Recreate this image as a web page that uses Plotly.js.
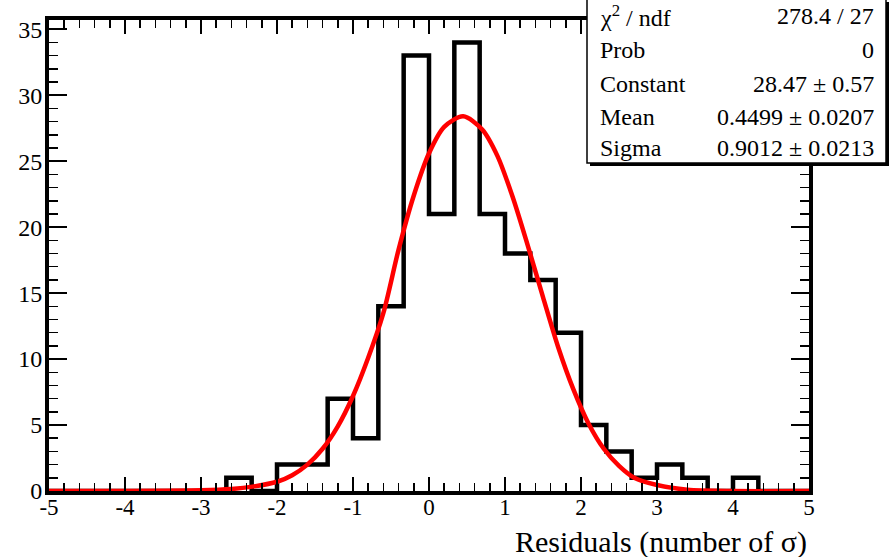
<!DOCTYPE html>
<html>
<head>
<meta charset="utf-8">
<script src="https://cdn.plot.ly/plotly-3.0.1.min.js"></script>
<style>html,body{margin:0;padding:0;background:#fff;}#chart{width:891px;height:557px;}</style>
</head>
<body>
<div id="chart"></div>
<script>
// Histogram bin edges (31 edges, 30 bins of width 1/3 from -5 to 5)
const binEdges = [-5, -4.6667, -4.3333, -4, -3.6667, -3.3333, -3, -2.6667, -2.3333, -2,
  -1.6667, -1.3333, -1, -0.6667, -0.3333, 0, 0.3333, 0.6667, 1, 1.3333,
  1.6667, 2, 2.3333, 2.6667, 3, 3.3333, 3.6667, 4, 4.3333, 4.6667, 5];
// Bin contents
const binCounts = [0, 0, 0, 0, 0, 0, 0, 1, 0, 2,
  2, 7, 4, 14, 33, 21, 34, 21, 18, 16,
  12, 5, 3, 1, 2, 1, 0, 1, 0, 0];

// Fitted curve, points
const fitX = [-5, -4, -3, -2.6, -2.3, -2.0, -1.8, -1.6, -1.4, -1.2, -1.0, -0.8, -0.6, -0.4, -0.2, 0, 0.2, 0.45, 0.7, 0.9, 1.1, 1.3, 1.5, 1.7, 1.9, 2.1, 2.3, 2.5, 2.7, 3.0, 3.4, 4, 5];
const fitY = [0, 0, 0.05, 0.15, 0.35, 0.7, 1.2, 2.0, 3.2, 4.9, 7.2, 10.1, 13.5, 18.3, 22.4, 25.6, 27.6, 28.4, 27.4, 25.4, 22.3, 18.6, 14.7, 10.9, 7.7, 5.1, 3.2, 1.9, 1.0, 0.45, 0.1, 0, 0];

// Statistics box
const statLabels = ["χ<sup>2</sup> / ndf", "Prob", "Constant", "Mean", "Sigma"];
const statValues = ["278.4 / 27", "0", "28.47 ± 0.57", "0.4499 ± 0.0207", "0.9012 ± 0.0213"];

const xTitle = "Residuals (number of σ)";
const xTickVals = [-5, -4, -3, -2, -1, 0, 1, 2, 3, 4, 5];
const yTickVals = [0, 5, 10, 15, 20, 25, 30, 35];

const histY = binCounts.concat([binCounts[binCounts.length - 1]]);

const FONT = "Liberation Serif";

const traces = [
  {
    type: "scatter", mode: "lines",
    x: binEdges, y: histY,
    line: {shape: "hv", color: "#000", width: 4.5},
    hoverinfo: "skip", showlegend: false
  },
  {
    type: "scatter", mode: "lines",
    x: fitX, y: fitY,
    line: {shape: "spline", smoothing: 0.8, color: "#ff0000", width: 4.5},
    hoverinfo: "skip", showlegend: false
  },
  {
    type: "scatter", mode: "lines", xaxis: "x2", yaxis: "y2",
    x: [null], y: [null], hoverinfo: "skip", showlegend: false
  }
];

// paper coordinate helpers for stat box (plot area: x 49..809, y 20..491)
const px = v => (v - 49) / 760;
const py = v => (491 - v) / 471;

const rowsY = [16, 50, 84, 117, 148];
const annotations = [];
statLabels.forEach((t, i) => {
  annotations.push({xref: "paper", yref: "paper", x: px(598), y: py(rowsY[i]), xanchor: "left", yanchor: "middle",
    text: t, showarrow: false, font: {family: FONT, size: 24, color: "#000"}});
  annotations.push({xref: "paper", yref: "paper", x: px(876), y: py(rowsY[i]), xanchor: "right", yanchor: "middle",
    text: statValues[i], showarrow: false, font: {family: FONT, size: 24, color: "#000"}});
});
annotations.push({xref: "paper", yref: "paper", x: 1.0, y: py(542), xanchor: "right", yanchor: "middle",
  text: xTitle, showarrow: false, font: {family: FONT, size: 30, color: "#000"}});

const tickStyle = {ticks: "inside", tickwidth: 1.5, tickcolor: "#000"};

const layout = {
  width: 891, height: 557,
  margin: {l: 49, r: 82, t: 20, b: 66},
  paper_bgcolor: "#fff", plot_bgcolor: "#fff",
  showlegend: false,
  font: {family: FONT, size: 24, color: "#000"},
  xaxis: Object.assign({
    range: [-5, 5], tickvals: xTickVals, ticktext: xTickVals.map(String), ticklen: 14,
    ticklabelstandoff: -8,
    minor: {dtick: 0.2, tick0: -5, ticks: "inside", ticklen: 8, tickwidth: 1.5, tickcolor: "#000", showgrid: false},
    showline: true, linewidth: 4, linecolor: "#000", mirror: true,
    showgrid: false, zeroline: false,
    tickfont: {family: FONT, size: 23, color: "#000"}
  }, tickStyle),
  xaxis2: Object.assign({
    overlaying: "x", side: "top", anchor: "y",
    range: [-5, 5], tickvals: xTickVals, ticklen: 14, showticklabels: false,
    minor: {dtick: 0.2, tick0: -5, ticks: "inside", ticklen: 8, tickwidth: 1.5, tickcolor: "#000", showgrid: false},
    showline: false, showgrid: false, zeroline: false
  }, tickStyle),
  yaxis: Object.assign({
    range: [0, 35.7], tickvals: yTickVals, ticktext: yTickVals.map(String), ticklen: 18,
    ticklabelstandoff: -2,
    minor: {dtick: 1, tick0: 0, ticks: "inside", ticklen: 9, tickwidth: 1.5, tickcolor: "#000", showgrid: false},
    showline: true, linewidth: 4, linecolor: "#000", mirror: true,
    showgrid: false, zeroline: false,
    tickfont: {family: FONT, size: 24, color: "#000"}
  }, tickStyle),
  yaxis2: Object.assign({
    overlaying: "y", side: "right", anchor: "x",
    range: [0, 35.7], tickvals: yTickVals, ticklen: 18, showticklabels: false,
    minor: {dtick: 1, tick0: 0, ticks: "inside", ticklen: 9, tickwidth: 1.5, tickcolor: "#000", showgrid: false},
    showline: false, showgrid: false, zeroline: false
  }, tickStyle),
  shapes: [
    {type: "rect", xref: "paper", yref: "paper", layer: "above",
     x0: px(590), x1: px(889), y0: py(166), y1: py(2),
     fillcolor: "#000", line: {width: 0}},
    {type: "rect", xref: "paper", yref: "paper", layer: "above",
     x0: px(587), x1: px(886), y0: py(163), y1: py(-1),
     fillcolor: "#fff", line: {color: "#000", width: 1.5}}
  ],
  annotations: annotations
};

Plotly.newPlot("chart", traces, layout, {staticPlot: true, displayModeBar: false});
</script>
</body>
</html>
